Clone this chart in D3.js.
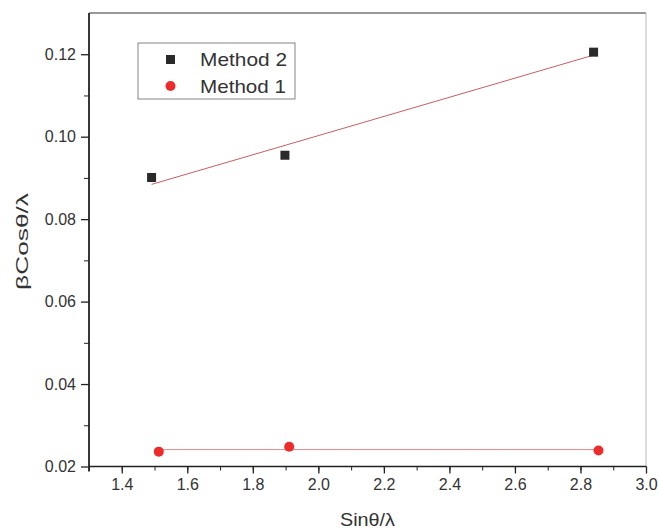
<!DOCTYPE html>
<html><head><meta charset="utf-8">
<script src="https://cdn.jsdelivr.net/npm/d3@7"></script>
<style>body{margin:0;background:#fff}svg{display:block}text{font-family:"Liberation Sans",Arial,sans-serif}</style>
</head><body>
<svg id="c" width="659" height="532"></svg>
<script>
const method2X = [1.491, 1.898, 2.840];
const method2Y = [0.0901, 0.0955, 0.1205];
const method1X = [1.513, 1.911, 2.855];
const method1Y = [0.0236, 0.0248, 0.0239];
const seriesNames = ["Method 2", "Method 1"];
const xTicks = [1.4, 1.6, 1.8, 2.0, 2.2, 2.4, 2.6, 2.8, 3.0];
const yTicks = [0.02, 0.04, 0.06, 0.08, 0.10, 0.12];
const xLabel = "Sinθ/λ";
const yLabel = "βCosθ/λ";

const svg = d3.select("#c");
const L = 89, R = 646, T = 13, B = 466.5;
const x = d3.scaleLinear().domain([1.3, 3.0]).range([L, R]);
const y = d3.scaleLinear().domain([0.02, 0.13]).range([B, T]);

// frame top/right
svg.append("line").attr("x1", L).attr("x2", R).attr("y1", T).attr("y2", T).attr("stroke", "#333").attr("stroke-width", 1.2);
svg.append("line").attr("x1", R).attr("x2", R).attr("y1", T).attr("y2", B).attr("stroke", "#bbb").attr("stroke-width", 1);

// x axis
const xMinor = d3.range(1.3, 3.001, 0.1);
const gx = svg.append("g").attr("transform", `translate(0,${B})`);
gx.call(d3.axisBottom(x).tickValues(xMinor).tickSize(4).tickFormat(""));
gx.call(g => g.selectAll(".domain").remove());
const gx2 = svg.append("g").attr("transform", `translate(0,${B})`);
gx2.call(d3.axisBottom(x).tickValues(xTicks).tickSize(7).tickPadding(5).tickFormat(d3.format(".1f")));
gx2.selectAll("text").attr("font-size", 16).attr("fill", "#333");
gx.selectAll("line").attr("stroke", "#222");
gx2.selectAll("line").attr("stroke", "#222").attr("stroke-width", 1.3);
gx2.select(".domain").attr("stroke", "#222").attr("stroke-width", 1.6).attr("d", `M${L},0H${R}`);

// y axis
const yMinor = d3.range(0.03, 0.13, 0.02);
const gy = svg.append("g").attr("transform", `translate(${L},0)`);
gy.call(d3.axisLeft(y).tickValues(yMinor).tickSize(5).tickFormat(""));
gy.call(g => g.selectAll(".domain").remove());
const gy2 = svg.append("g").attr("transform", `translate(${L},0)`);
gy2.call(d3.axisLeft(y).tickValues(yTicks).tickSize(8).tickPadding(5).tickFormat(d3.format(".2f")));
gy2.selectAll("text").attr("font-size", 16).attr("fill", "#333");
gy.selectAll("line").attr("stroke", "#222");
gy2.selectAll("line").attr("stroke", "#222").attr("stroke-width", 1.3);
gy2.select(".domain").attr("stroke", "#222").attr("stroke-width", 1.8).attr("d", `M0,${B+5}V${T}`);

// axis titles
svg.append("text").attr("x", 340).attr("y", 526).attr("font-size", 18).attr("fill", "#333")
  .attr("textLength", 55).attr("lengthAdjust", "spacingAndGlyphs").text(xLabel);
svg.append("text").attr("transform", "translate(28,290) rotate(-90)").attr("font-size", 16).attr("fill", "#333")
  .attr("textLength", 97).attr("lengthAdjust", "spacingAndGlyphs").text(yLabel);

// linear fit
function fit(xs, ys) {
  const mx = d3.mean(xs), my = d3.mean(ys);
  let sxy = 0, sxx = 0;
  xs.forEach((v, i) => { sxy += (v - mx) * (ys[i] - my); sxx += (v - mx) ** 2; });
  const b = sxy / sxx, a = my - b * mx;
  const x0 = d3.min(xs), x1 = d3.max(xs);
  return [[x0, a + b * x0], [x1, a + b * x1]];
}
const line = d3.line().x(d => x(d[0])).y(d => y(d[1]));
svg.append("path").attr("d", line(fit(method2X, method2Y))).attr("stroke", "#c86060").attr("stroke-width", 1).attr("fill", "none");
svg.append("path").attr("d", line(fit(method1X, method1Y))).attr("stroke", "#e38a8a").attr("stroke-width", 1).attr("fill", "none");

// markers
const s = 9;
svg.selectAll(".sq").data(method2X.map((v, i) => [v, method2Y[i]])).enter().append("rect")
  .attr("x", d => x(d[0]) - s / 2).attr("y", d => y(d[1]) - s / 2).attr("width", s).attr("height", s).attr("fill", "#2a2a2a");
svg.selectAll(".ci").data(method1X.map((v, i) => [v, method1Y[i]])).enter().append("circle")
  .attr("cx", d => x(d[0])).attr("cy", d => y(d[1])).attr("r", 5).attr("fill", "#ee2b2b");

// legend
const lg = svg.append("g");
lg.append("rect").attr("x", 138).attr("y", 43).attr("width", 157).attr("height", 56).attr("fill", "#fff").attr("stroke", "#666").attr("stroke-width", 0.8);
lg.append("rect").attr("x", 166).attr("y", 55).attr("width", s).attr("height", s).attr("fill", "#2a2a2a");
lg.append("circle").attr("cx", 170.5).attr("cy", 86).attr("r", 5).attr("fill", "#ee2b2b");
lg.append("text").attr("x", 200).attr("y", 66).attr("font-size", 19).attr("fill", "#333")
  .attr("textLength", 87).attr("lengthAdjust", "spacingAndGlyphs").text(seriesNames[0]);
lg.append("text").attr("x", 200).attr("y", 93).attr("font-size", 19).attr("fill", "#333")
  .attr("textLength", 86).attr("lengthAdjust", "spacingAndGlyphs").text(seriesNames[1]);
</script>
</body></html>
